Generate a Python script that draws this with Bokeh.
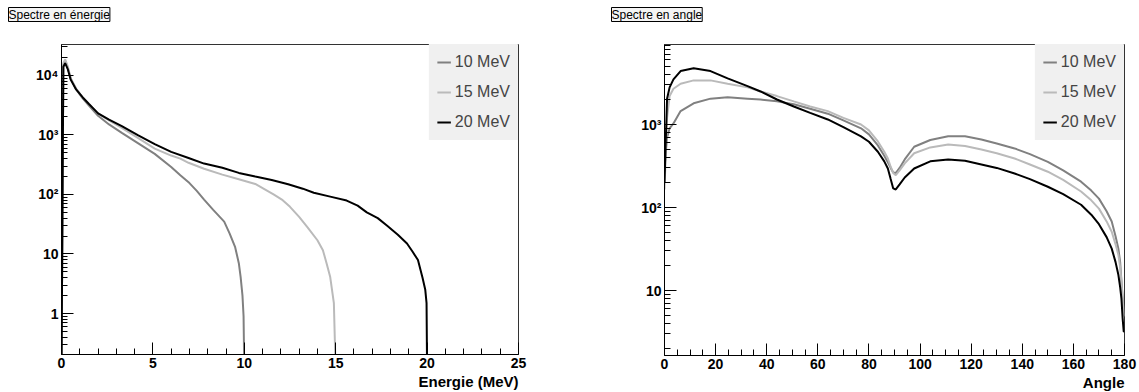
from bokeh.plotting import figure
from bokeh.layouts import row
from bokeh.models import Range1d, FixedTicker, Legend, LegendItem, Title
from bokeh.embed import file_html
from bokeh.resources import INLINE

# ---------------- data: energy spectrum ----------------
e10_x = [0, 0.1, 0.2, 0.35, 0.5, 0.8, 1.15, 1.5, 2.0, 2.6, 3.3, 4.2, 5.1, 6.0, 6.5, 7.0, 7.4, 7.8, 8.3, 8.9, 9.2, 9.5, 9.7, 9.8, 9.9, 9.96, 10.0]
e10_y = [0.1, 15000, 17500, 13000, 8900, 5800, 4150, 3100, 2100, 1500, 1080, 720, 480, 290, 210, 155, 115, 82, 55, 35, 22, 13, 7, 4.1, 2, 0.9, 0.1]

e15_x = [0, 0.1, 0.2, 0.35, 0.5, 0.8, 1.15, 1.5, 2.0, 2.6, 3.3, 4.2, 5.1, 6.0, 6.5, 6.95, 7.8, 8.8, 9.7, 10.6, 11.05, 11.6, 12.1, 12.5, 13.0, 13.46, 14.0, 14.3, 14.5, 14.7, 14.9, 15.0]
e15_y = [0.1, 16000, 18500, 14000, 9000, 6000, 4300, 3300, 2300, 1750, 1310, 880, 590, 450, 400, 340, 270, 215, 180, 150, 125, 100, 80, 62, 42, 28, 17, 11.6, 7, 4.1, 1.5, 0.1]

e20_x = [0, 0.1, 0.2, 0.35, 0.5, 0.8, 1.15, 1.5, 2.0, 2.6, 3.3, 4.2, 5.1, 6.0, 6.95, 7.8, 8.8, 9.7, 10.6, 11.5, 12.4, 13.2, 13.8, 14.7, 15.6, 16.2, 16.7, 17.3, 17.8, 18.4, 18.9, 19.2, 19.5, 19.75, 19.9, 19.97, 20.0]
e20_y = [0.1, 14000, 16000, 12600, 8500, 5800, 4300, 3300, 2300, 1800, 1410, 980, 700, 520, 410, 330, 280, 230, 200, 175, 148, 125, 107, 92, 79, 65, 50, 40, 30, 21, 15, 11, 7.9, 4, 2.5, 1.5, 0.1]

# ---------------- data: angular spectrum ----------------
ang = [0, 1, 2, 3.5, 6.3, 11.4, 18, 24.7, 32.5, 37.6, 44, 50.6, 57, 63.9, 70, 76.9, 80, 83.5, 86, 87.4, 88.5, 89.5, 90.5, 92, 94, 97.7, 104, 111, 117.6, 124, 130, 137, 143, 150, 156, 163, 167, 170, 173, 175, 176.5, 177.6, 178.3, 178.8, 179.3, 179.7, 180]
a20 = [200, 2040, 2800, 3500, 4400, 4750, 4400, 3600, 2900, 2500, 2000, 1650, 1380, 1150, 930, 720, 620, 470, 360, 295, 220, 170, 165, 190, 230, 295, 360, 380, 365, 330, 300, 257, 220, 178, 145, 108, 82, 63, 44, 32, 22, 15.5, 11, 8, 4.5, 3.2, 3.2]
a15 = [165, 1200, 2200, 2700, 3100, 3400, 3400, 3100, 2800, 2500, 2200, 1900, 1650, 1450, 1200, 1000, 850, 625, 470, 390, 310, 260, 245, 280, 340, 450, 530, 575, 550, 500, 450, 390, 330, 270, 215, 156, 122, 97, 68, 51, 36, 27, 19, 13, 8, 5, 5]
a10 = [300, 700, 900, 1030, 1450, 1800, 2050, 2130, 2050, 2000, 1900, 1750, 1550, 1350, 1120, 900, 760, 560, 420, 350, 300, 265, 260, 300, 380, 540, 650, 720, 720, 660, 590, 515, 440, 355, 280, 205, 160, 128, 90, 68, 45, 32, 22, 13, 8, 5, 5]

series_labels = ["10 MeV", "15 MeV", "20 MeV"]
series_colors = ["#808080", "#bababa", "#000000"]

FONT = "Liberation Sans"
log_labels = {1: "1", 10: "10", 100: "10\u00b2", 1000: "10\u00b3", 10000: "10\u2074"}


def set_if(obj, name, val):
    if name in obj.properties():
        setattr(obj, name, val)


def style_axes(p, xticks, xminor, ymajor, yminor, xlabel):
    p.xaxis.ticker = FixedTicker(ticks=xticks, minor_ticks=xminor)
    p.yaxis.ticker = FixedTicker(ticks=ymajor, minor_ticks=yminor)
    p.yaxis.major_label_overrides = {k: v for k, v in log_labels.items() if k in ymajor}
    for ax in (p.xaxis[0], p.yaxis[0]):
        ax.major_tick_in = 12
        ax.major_tick_out = 0
        ax.minor_tick_in = 6
        ax.minor_tick_out = 0
        ax.axis_line_color = "black"
        ax.major_tick_line_color = "black"
        ax.minor_tick_line_color = "black"
        ax.major_label_text_font = FONT
        ax.major_label_text_font_style = "bold"
        ax.major_label_text_font_size = "14px"
        ax.major_label_text_color = "black"
        ax.major_label_standoff = 3
    t = Title(text=xlabel, align="right", text_font=FONT, text_font_style="bold",
              text_font_size="15px", text_color="black")
    set_if(t, "standoff", 0)
    p.add_layout(t, "below")
    p.xgrid.visible = False
    p.ygrid.visible = False
    p.outline_line_color = "#333333"


def make_legend(p, renderers):
    items = [LegendItem(label=l, renderers=[r]) for l, r in zip(series_labels, renderers)]
    leg = Legend(items=items, location="top_right", background_fill_color="#f0f0f0",
                 background_fill_alpha=1.0, border_line_alpha=0, label_text_font=FONT,
                 label_text_font_size="16px", glyph_width=14, glyph_height=20,
                 label_height=20, spacing=10, padding=8, margin=0, label_standoff=4)
    p.add_layout(leg)


def title_box(p, text, offset):
    spacer = Title(text=" ", text_font_size="10px")
    set_if(spacer, "standoff", 10)
    p.add_layout(spacer, "above")
    t = Title(text=text, align="left", offset=offset, text_font=FONT,
              text_font_size="12px", text_font_style="normal", text_color="black",
              background_fill_color="#f4f4f4", border_line_color="black",
              border_line_width=1)
    set_if(t, "standoff", 0)
    p.add_layout(t, "above")


# ---------------- left panel ----------------
p1 = figure(width=600, height=392, frame_width=457, frame_height=310,
            min_border_left=61, min_border_right=82, min_border_top=44, min_border_bottom=38,
            x_range=Range1d(0, 25), y_range=Range1d(0.205, 33000), y_axis_type="log",
            output_backend="svg", toolbar_location=None)
p1.background_fill_color = "white"
r1 = []
for xs, ys, c in zip([e10_x, e15_x, e20_x], [e10_y, e15_y, e20_y], series_colors):
    r1.append(p1.line(xs, ys, line_color=c, line_width=2))
style_axes(p1, [0, 5, 10, 15, 20, 25], [i for i in range(26) if i % 5],
           [1, 10, 100, 1000, 10000],
           [m * 10 ** d for d in range(-1, 5) for m in range(2, 10)],
           "Energie (MeV)")
make_legend(p1, r1)
title_box(p1, "Spectre en \u00e9nergie", -53)

# ---------------- right panel ----------------
p2 = figure(width=539, height=392, frame_width=460, frame_height=311,
            min_border_left=64, min_border_right=15, min_border_top=43, min_border_bottom=38,
            x_range=Range1d(0, 180), y_range=Range1d(1.65, 9200), y_axis_type="log",
            output_backend="svg", toolbar_location=None)
r2 = []
for ys, c in zip([a10, a15, a20], series_colors):
    r2.append(p2.line(ang, ys, line_color=c, line_width=2))
style_axes(p2, list(range(0, 181, 20)), [i for i in range(0, 181, 5) if i % 20],
           [10, 100, 1000],
           [m * 10 ** d for d in range(0, 4) for m in range(2, 10)],
           "Angle")
make_legend(p2, r2)
title_box(p2, "Spectre en angle", -53)

layout = row(p1, p2)
open("out.html", "w").write(file_html(layout, INLINE))
